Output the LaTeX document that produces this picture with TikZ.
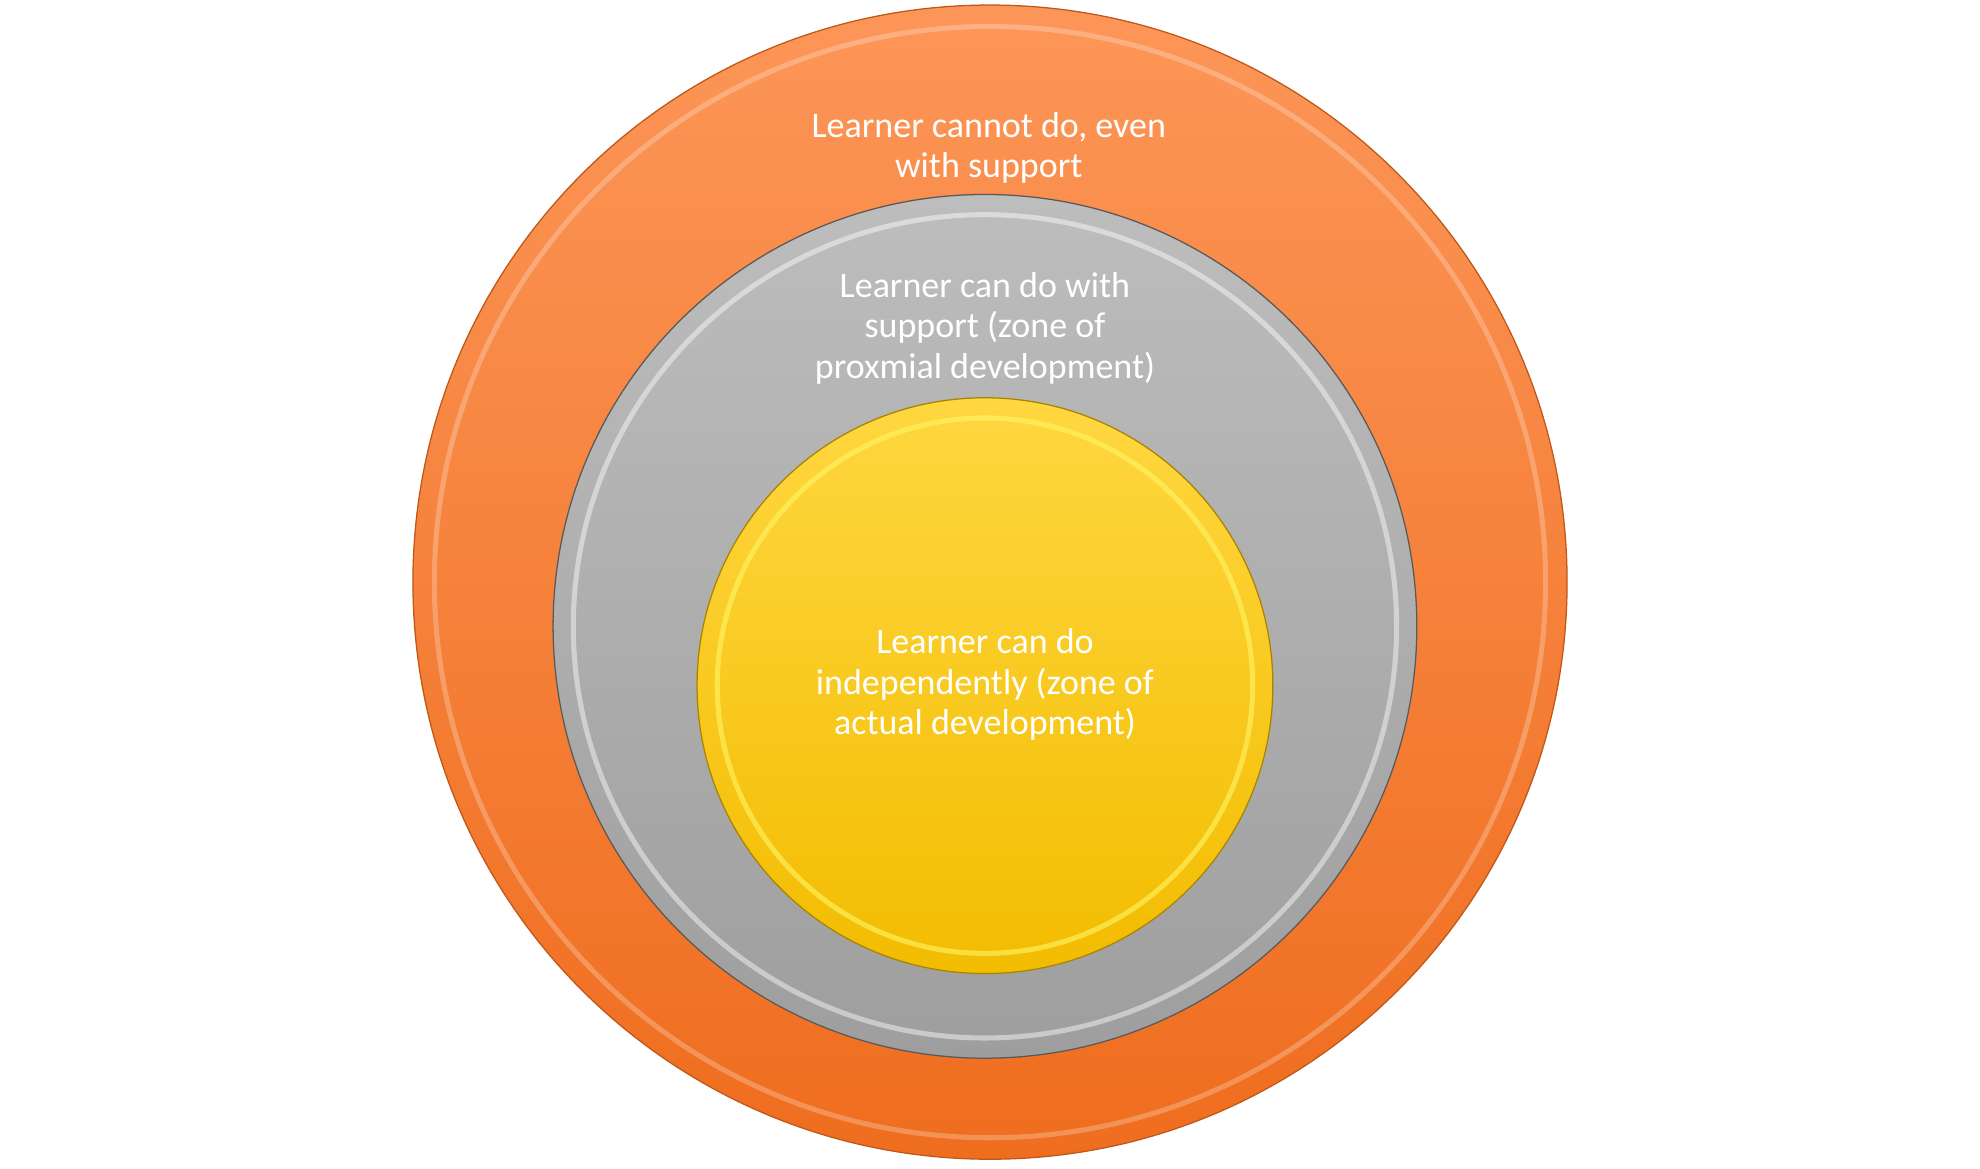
\documentclass[tikz,border=0pt]{standalone}
\usepackage{fontspec}
\setmainfont{Carlito}
\begin{document}
\begin{tikzpicture}[x=1pt,y=-1pt,
  lbl/.style={text=white,font=\fontsize{28.5}{32}\selectfont,align=center}]
\useasboundingbox (0,0) rectangle (1568,925);
\definecolor{otop}{HTML}{FC9658}\definecolor{obot}{HTML}{EF6D1E}
\definecolor{gtop}{HTML}{BDBDBD}\definecolor{gbot}{HTML}{9E9E9E}
\definecolor{ytop}{HTML}{FFD740}\definecolor{ybot}{HTML}{F2BC00}
% outer
\node[circle,minimum size=914,inner sep=0,draw=obot!80!black,line width=1,top color=otop,bottom color=obot] (outer) at (784,461) {};
\draw[line width=4,draw=white,opacity=0.25] (784,461) circle (440);
% gray
\node[circle,minimum size=684,inner sep=0,draw=gray!70!black,line width=1,top color=gtop,bottom color=gbot] (mid) at (780,496) {};
\draw[line width=4,draw=white,opacity=0.45] (780,496) circle (326);
% yellow
\node[circle,minimum size=456,inner sep=0,draw=ybot!70!black,line width=1,top color=ytop,bottom color=ybot] (inner) at (780,543) {};
\draw[line width=4,draw=yellow!60!white,opacity=0.6] (780,543) circle (212);
\node[lbl] (t1) at (783,117) {Learner cannot do, even\\with support};
\node[lbl] (t2) at (780,260) {Learner can do with\\support (zone of\\proxmial development)};
\node[lbl] (t3) at (780,542) {Learner can do\\independently (zone of\\actual development)};
\end{tikzpicture}
\end{document}
